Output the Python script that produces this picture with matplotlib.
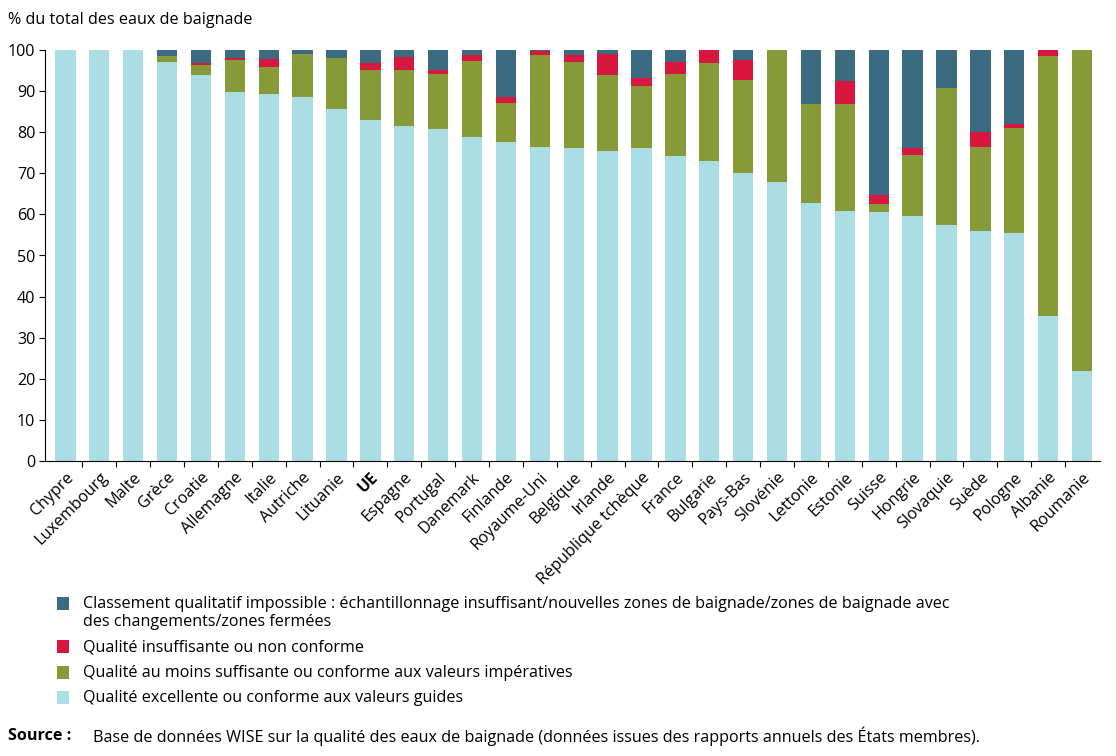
import matplotlib
matplotlib.use("Agg")
import matplotlib.pyplot as plt
from matplotlib.patches import Rectangle
import numpy as np

plt.rcParams['font.family'] = ['Open Sans', 'DejaVu Sans']

categories = ["Chypre", "Luxembourg", "Malte", "Grèce", "Croatie", "Allemagne", "Italie",
              "Autriche", "Lituanie", "UE", "Espagne", "Portugal", "Danemark", "Finlande",
              "Royaume-Uni", "Belgique", "Irlande", "République tchèque", "France", "Bulgarie",
              "Pays-Bas", "Slovénie", "Lettonie", "Estonie", "Suisse", "Hongrie", "Slovaquie",
              "Suède", "Pologne", "Albanie", "Roumanie"]
excellent = [100, 100, 100, 97.0, 93.8, 89.9, 89.3, 88.5, 85.6, 83.0, 81.5, 80.8, 78.9, 77.5,
             76.5, 76.2, 75.5, 76.1, 74.3, 73.0, 70.0, 67.8, 62.7, 60.9, 60.7, 59.6, 57.3,
             56.0, 55.4, 35.3, 21.9]
suffisante = [0, 0, 0, 1.5, 2.6, 7.7, 6.6, 10.5, 12.4, 12.1, 13.6, 13.4, 18.5, 9.5,
              22.2, 20.9, 18.4, 15.1, 19.9, 23.8, 22.6, 32.2, 24.2, 26.0, 1.8, 14.9, 33.5,
              20.3, 25.6, 63.3, 78.1]
insuffisante = [0, 0, 0, 0, 0.4, 0.4, 1.9, 0, 0, 1.8, 3.1, 0.9, 1.5, 1.5,
                1.1, 1.8, 5.1, 2.1, 2.9, 3.2, 5.0, 0, 0, 5.5, 2.1, 1.7, 0,
                3.7, 1.1, 1.4, 0]
impossible = [0, 0, 0, 1.5, 3.2, 2.0, 2.2, 1.0, 2.0, 3.1, 1.8, 4.9, 1.1, 11.5,
              0.2, 1.1, 1.0, 6.7, 2.9, 0, 2.4, 0, 13.1, 7.6, 35.4, 23.8, 9.2,
              20.0, 17.9, 0, 0]

legend_labels = [
    "Classement qualitatif impossible : échantillonnage insuffisant/nouvelles zones de baignade/zones de baignade avec\ndes changements/zones fermées",
    "Qualité insuffisante ou non conforme",
    "Qualité au moins suffisante ou conforme aux valeurs impératives",
    "Qualité excellente ou conforme aux valeurs guides",
]

c_exc = "#ABDDE5"
c_suf = "#879A38"
c_ins = "#D8173F"
c_imp = "#3B6B80"

FS = 11.6
W, H = 1116, 756
fig = plt.figure(figsize=(W / 100, H / 100), dpi=100)
ax = fig.add_axes([45 / W, 1 - 461 / H, (1100 - 45) / W, (461 - 50) / H])

x = np.arange(len(categories))
exc = np.array(excellent)
suf = np.array(suffisante)
ins = np.array(insuffisante)
imp = np.array(impossible)
bw = 0.6
ax.bar(x, exc, bw, color=c_exc)
ax.bar(x, suf, bw, bottom=exc, color=c_suf)
ax.bar(x, ins, bw, bottom=exc + suf, color=c_ins)
ax.bar(x, imp, bw, bottom=exc + suf + ins, color=c_imp)

ax.set_xlim(-0.6, len(categories) - 0.47)
ax.set_ylim(0, 100)
ax.set_yticks(np.arange(0, 101, 10))
ax.tick_params(axis='y', labelsize=FS, length=4, width=0.8, pad=3)
ax.spines['top'].set_visible(False)
ax.spines['right'].set_visible(False)
ax.spines['left'].set_linewidth(0.8)
ax.spines['bottom'].set_linewidth(0.8)

ax.set_xticks(x)
ax.set_xticklabels(categories, rotation=45, ha='right', rotation_mode='anchor', fontsize=FS)
ax.tick_params(axis='x', which='major', length=0, pad=6)
for lbl in ax.get_xticklabels():
    if lbl.get_text() == "UE":
        lbl.set_fontweight('bold')
ax.set_xticks(x[:-1] + 0.5, minor=True)
ax.tick_params(axis='x', which='minor', length=4, width=0.8)

fig.text(8 / W, 1 - 20 / H, "% du total des eaux de baignade", fontsize=FS, va='center', ha='left')

colors = [c_imp, c_ins, c_suf, c_exc]
ys = [603, 646, 672, 697]
for col, lab, yc in zip(colors, legend_labels, ys):
    fig.add_artist(Rectangle((57 / W, 1 - (yc + 6.5) / H), 12 / W, 13 / H,
                             transform=fig.transFigure, color=col, lw=0))
    fig.text(83 / W, 1 - (yc - 7) / H, lab, fontsize=FS, va='top', ha='left', linespacing=1.2)

fig.text(8 / W, 1 - 736 / H, "Source :", fontsize=FS, fontweight='bold', va='center', ha='left')
fig.text(93 / W, 1 - 736 / H,
         "Base de données WISE sur la qualité des eaux de baignade (données issues des rapports annuels des États membres).",
         fontsize=FS, va='center', ha='left')

fig.savefig("out.png", dpi=100)
